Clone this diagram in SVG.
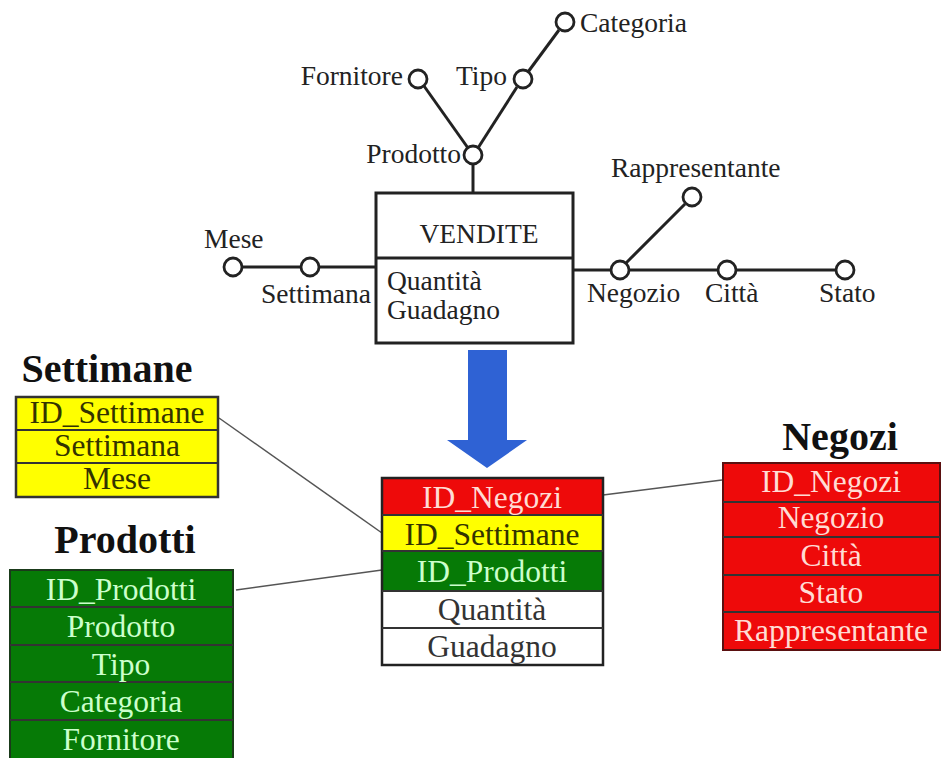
<svg xmlns="http://www.w3.org/2000/svg" width="942" height="758" viewBox="0 0 942 758">
  <style>
    text { font-family: "Liberation Serif", "DejaVu Serif", "Times New Roman", serif; }
    .er { fill: none; stroke: #222; stroke-width: 3; }
    .att { fill: #fff; stroke: #222; stroke-width: 2.8; }
    .lbl { font-size: 27.5px; fill: #222; }
    .cell { font-size: 31.5px; text-anchor: middle; }
    .title { font-size: 40px; font-weight: bold; fill: #111; text-anchor: middle; }
    .row { stroke: #333; stroke-width: 2; }
    .link { fill: none; stroke: #555; stroke-width: 1.5; }
    .y { fill: #ffff00; }
    .r { fill: #ee0a0a; }
    .g { fill: #067a06; }
    .w { fill: #fff; }
    .ty { fill: #333300; }
    .tr { fill: #ffdcd4; }
    .tg { fill: #ccffcc; }
    .tw { fill: #333; }
  </style>
  <rect width="942" height="758" fill="#fff"/>

  <!-- dimensional fact schema -->
  <g id="edges-fact">
    <line class="er" x1="473" y1="164" x2="473" y2="193"/>
    <line class="er" x1="424" y1="86" x2="468" y2="148"/>
    <line class="er" x1="517" y1="87" x2="478" y2="148"/>
    <line class="er" x1="528" y1="72" x2="559" y2="30"/>
    <line class="er" x1="242" y1="267" x2="376" y2="267"/>
    <line class="er" x1="573" y1="270" x2="836" y2="270"/>
    <line class="er" x1="626" y1="263" x2="685" y2="204"/>
  </g>
  <g id="vendite">
    <rect class="er" x="376" y="193" width="197" height="150" fill="#fff"/>
    <line class="er" x1="376" y1="258" x2="573" y2="258"/>
    <text class="lbl" x="479" y="243" text-anchor="middle">VENDITE</text>
    <text class="lbl" x="387" y="290">Quantità</text>
    <text class="lbl" x="387" y="319">Guadagno</text>
  </g>
  <g id="prodotto"><circle class="att" cx="473" cy="155" r="9"/><text class="lbl" x="461" y="163" text-anchor="end">Prodotto</text></g>
  <g id="fornitore"><circle class="att" cx="418" cy="79" r="9"/><text class="lbl" x="403" y="85" text-anchor="end">Fornitore</text></g>
  <g id="tipo"><circle class="att" cx="523" cy="79" r="9"/><text class="lbl" x="507" y="85" text-anchor="end">Tipo</text></g>
  <g id="categoria"><circle class="att" cx="565" cy="22" r="9"/><text class="lbl" x="580" y="32">Categoria</text></g>
  <g id="mese"><circle class="att" cx="233" cy="267" r="9"/><text class="lbl" x="204" y="248">Mese</text></g>
  <g id="settimana"><circle class="att" cx="310" cy="267" r="9"/><text class="lbl" x="261" y="303">Settimana</text></g>
  <g id="negozio"><circle class="att" cx="620" cy="270" r="9"/><text class="lbl" x="587" y="302">Negozio</text></g>
  <g id="rappresentante"><circle class="att" cx="692" cy="197" r="9"/><text class="lbl" x="611" y="177">Rappresentante</text></g>
  <g id="citta"><circle class="att" cx="727" cy="270" r="9"/><text class="lbl" x="705" y="302">Città</text></g>
  <g id="stato"><circle class="att" cx="845" cy="270" r="9"/><text class="lbl" x="819" y="302">Stato</text></g>

  <!-- transformation arrow -->
  <g id="arrow">
    <polygon points="468,350 507,350 507,440 527,440 487,468 447,440 468,440" fill="#2f62d4"/>
  </g>

  <!-- star schema connectors -->
  <g id="connectors">
    <line class="link" x1="219" y1="418" x2="382" y2="533"/>
    <line class="link" x1="236" y1="590" x2="382" y2="570"/>
    <line class="link" x1="603" y1="495" x2="722" y2="480"/>
  </g>

  <g id="vendite-table">
    <rect class="r" x="382" y="478" width="221" height="37"/>
    <rect class="y" x="382" y="515" width="221" height="36"/>
    <rect class="g" x="382" y="551" width="221" height="40"/>
    <rect class="w" x="382" y="591" width="221" height="37"/>
    <rect class="w" x="382" y="628" width="221" height="37"/>
    <rect x="382" y="478" width="221" height="187" fill="none" stroke="#222" stroke-width="2.5"/>
    <line class="row" x1="382" y1="515" x2="603" y2="515"/>
    <line class="row" x1="382" y1="551" x2="603" y2="551"/>
    <line class="row" x1="382" y1="591" x2="603" y2="591"/>
    <line class="row" x1="382" y1="628" x2="603" y2="628"/>
    <text class="cell tr" x="492" y="508">ID_Negozi</text>
    <text class="cell ty" x="492" y="545">ID_Settimane</text>
    <text class="cell tg" x="492" y="582">ID_Prodotti</text>
    <text class="cell tw" x="492" y="620">Quantità</text>
    <text class="cell tw" x="492" y="657">Guadagno</text>
  </g>

  <g id="settimane">
    <text class="title" x="107" y="382">Settimane</text>
    <rect class="y" x="16" y="397" width="202" height="100" stroke="#333" stroke-width="2.5"/>
    <line class="row" x1="16" y1="430" x2="218" y2="430"/>
    <line class="row" x1="16" y1="463" x2="218" y2="463"/>
    <text class="cell ty" x="117" y="423">ID_Settimane</text>
    <text class="cell ty" x="117" y="456">Settimana</text>
    <text class="cell ty" x="117" y="489">Mese</text>
  </g>

  <g id="prodotti">
    <text class="title" x="125" y="553">Prodotti</text>
    <rect class="g" x="10" y="570" width="223" height="190" stroke="#1a3a1a" stroke-width="2"/>
    <line class="row" x1="10" y1="607" x2="233" y2="607"/>
    <line class="row" x1="10" y1="645" x2="233" y2="645"/>
    <line class="row" x1="10" y1="682" x2="233" y2="682"/>
    <line class="row" x1="10" y1="720" x2="233" y2="720"/>
    <text class="cell tg" x="121" y="600">ID_Prodotti</text>
    <text class="cell tg" x="121" y="637">Prodotto</text>
    <text class="cell tg" x="121" y="675">Tipo</text>
    <text class="cell tg" x="121" y="712">Categoria</text>
    <text class="cell tg" x="121" y="750">Fornitore</text>
  </g>

  <g id="negozi">
    <text class="title" x="840" y="450">Negozi</text>
    <rect class="r" x="723" y="463" width="217" height="187" stroke="#5a1010" stroke-width="2"/>
    <line class="row" x1="723" y1="502" x2="940" y2="502"/>
    <line class="row" x1="723" y1="537" x2="940" y2="537"/>
    <line class="row" x1="723" y1="575" x2="940" y2="575"/>
    <line class="row" x1="723" y1="612" x2="940" y2="612"/>
    <text class="cell tr" x="831" y="492">ID_Negozi</text>
    <text class="cell tr" x="831" y="528">Negozio</text>
    <text class="cell tr" x="831" y="566">Città</text>
    <text class="cell tr" x="831" y="603">Stato</text>
    <text class="cell tr" x="831" y="641">Rappresentante</text>
  </g>
</svg>
